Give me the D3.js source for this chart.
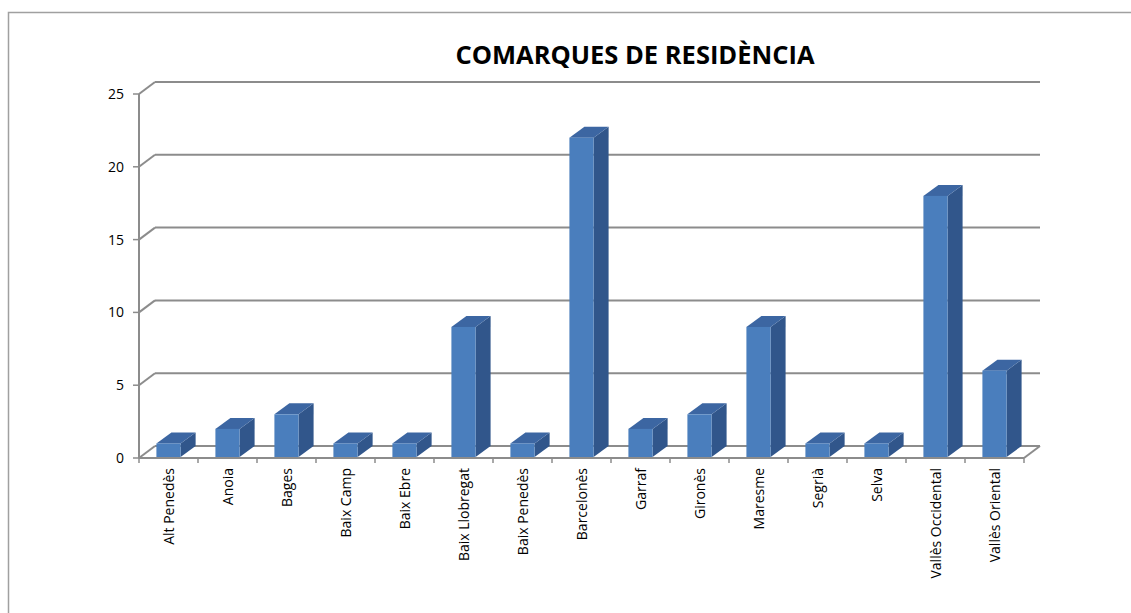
<!DOCTYPE html>
<html><head><meta charset="utf-8">
<script src="https://cdn.jsdelivr.net/npm/d3@7"></script>
<style>html,body{margin:0;padding:0;background:#fff;overflow:hidden}</style>
</head><body>
<svg id="c" width="1131" height="613"></svg>
<script>
const title = "COMARQUES DE RESIDÈNCIA";
const categories = ["Alt Penedès","Anoia","Bages","Baix Camp","Baix Ebre","Baix Llobregat","Baix Penedès","Barcelonès","Garraf","Gironès","Maresme","Segrià","Selva","Vallès Occidental","Vallès Oriental"];
const values = [1,2,3,1,1,9,1,22,2,3,9,1,1,18,6];
const yTicks = [0,5,10,15,20,25];

(function(){
const svg = d3.select("#c");
const pLeft = 139, pRight = 1024, pBottom = 458, pTop = 94;
const dx = 16, dy = -12;   // depth of the floor / back wall
const bdx = 15, bdy = -11; // depth of each bar

const y = d3.scaleLinear().domain([0,25]).range([pBottom, pTop]);
const x = d3.scaleBand().domain(categories).range([pLeft, pRight]).paddingInner(0.59).paddingOuter(0.295);
const xb = d3.scaleBand().domain(categories).range([pLeft, pRight]).padding(0);

svg.append("rect").attr("x",8.5).attr("y",12.5).attr("width",1140).attr("height",620)
  .attr("fill","none").attr("stroke","#a0a0a0").attr("stroke-width",1.5);

svg.append("text").attr("x",635).attr("y",64).attr("text-anchor","middle")
  .attr("font-family","Open Sans, sans-serif").attr("font-weight","bold").attr("font-size",25.5)
  .attr("fill","#000").text(title);

const gridCol = "#8c8c8c";
const g = svg.append("g");
yTicks.forEach(v => {
  const yy = y(v);
  g.append("line").attr("x1",pLeft+dx).attr("x2",pRight+dx).attr("y1",yy+dy).attr("y2",yy+dy)
    .attr("stroke",gridCol).attr("stroke-width",2);
  g.append("line").attr("x1",pLeft).attr("x2",pLeft+dx).attr("y1",yy).attr("y2",yy+dy)
    .attr("stroke",gridCol).attr("stroke-width",2);
  g.append("line").attr("x1",pLeft-6).attr("x2",pLeft).attr("y1",yy).attr("y2",yy)
    .attr("stroke",gridCol).attr("stroke-width",1.5);
  svg.append("text").attr("x",124).attr("y",yy).attr("dy","0.36em").attr("text-anchor","end")
    .attr("font-family","Open Sans, sans-serif").attr("font-size",14).attr("fill","#000").text(v);
});
g.append("line").attr("x1",pLeft).attr("x2",pLeft).attr("y1",y(25)).attr("y2",pBottom)
  .attr("stroke",gridCol).attr("stroke-width",2);
g.append("line").attr("x1",pLeft).attr("x2",pRight).attr("y1",pBottom).attr("y2",pBottom)
  .attr("stroke",gridCol).attr("stroke-width",2);
g.append("line").attr("x1",pRight).attr("x2",pRight+dx).attr("y1",pBottom).attr("y2",pBottom+dy)
  .attr("stroke",gridCol).attr("stroke-width",2);
categories.concat([null]).forEach(c => {
  const xx = c ? xb(c) : pRight;
  g.append("line").attr("x1",xx).attr("x2",xx).attr("y1",pBottom).attr("y2",pBottom+5)
    .attr("stroke",gridCol).attr("stroke-width",1.5);
});

const bars = svg.append("g");
categories.forEach((c,i) => {
  const x0 = x(c), w = x.bandwidth(), y0 = y(values[i]), yb = pBottom - 1;
  bars.append("path").attr("d", `M${x0+w},${y0} L${x0+w+bdx},${y0+bdy} L${x0+w+bdx},${yb+bdy} L${x0+w},${yb} Z`)
    .attr("fill","#31568b");
  bars.append("path").attr("d", `M${x0},${y0} L${x0+bdx},${y0+bdy} L${x0+w+bdx},${y0+bdy} L${x0+w},${y0} Z`)
    .attr("fill","#3c66a2");
  bars.append("rect").attr("x",x0).attr("y",y0).attr("width",w).attr("height",yb-y0)
    .attr("fill","#4a7ebd");
});

categories.forEach(c => {
  const cx = xb(c) + xb.bandwidth()/2;
  svg.append("text").attr("transform",`translate(${cx},468) rotate(-90)`)
    .attr("text-anchor","end").attr("dy","0.36em")
    .attr("font-family","Open Sans, sans-serif").attr("font-size",14).attr("fill","#000").text(c);
});
})();
</script>
</body></html>
